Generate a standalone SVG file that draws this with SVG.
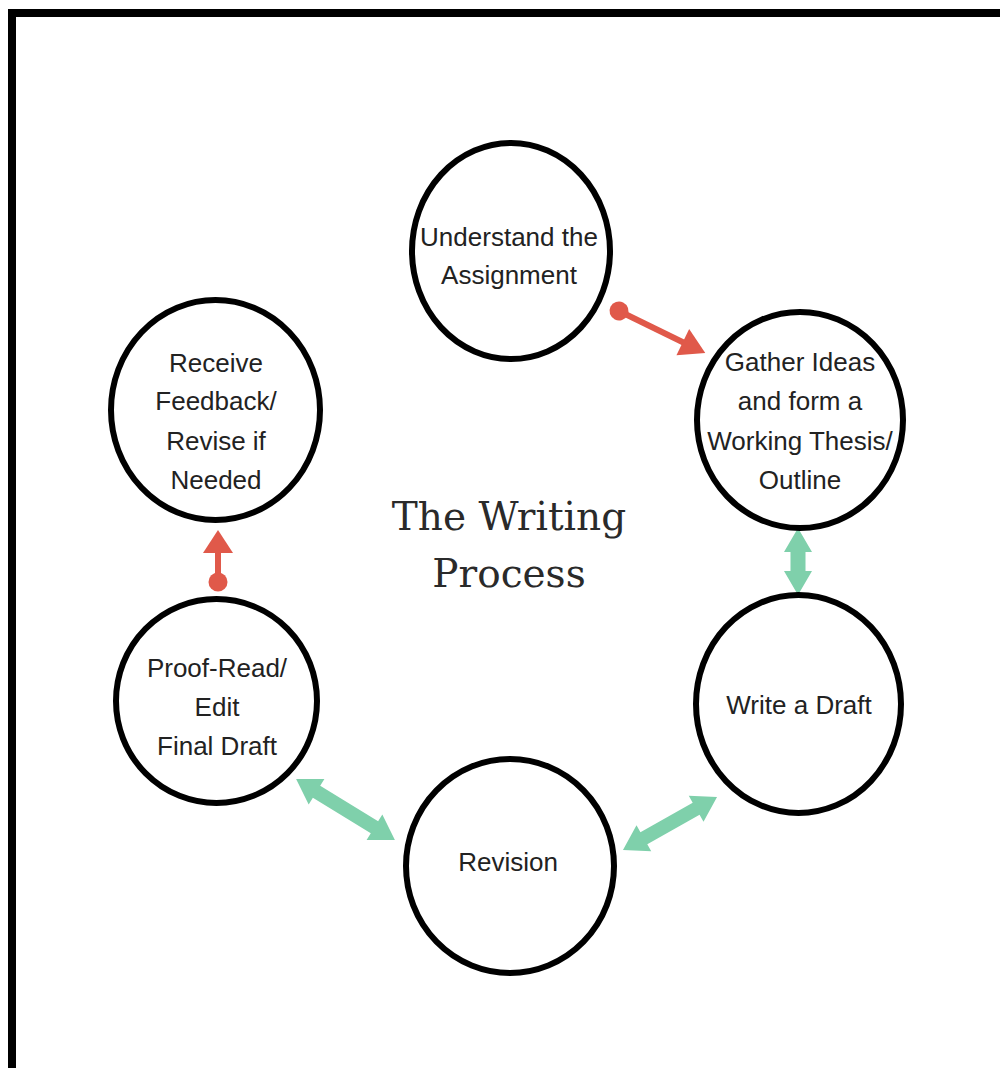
<svg xmlns="http://www.w3.org/2000/svg" width="1000" height="1068" viewBox="0 0 1000 1068">
  <style>
    .node ellipse { fill: #ffffff; stroke: #000000; stroke-width: 6; }
    .node text { font-family: "Liberation Sans", Arial, sans-serif; font-size: 26px; fill: #222222; text-anchor: middle; }
    .title { font-family: "DejaVu Serif", "Liberation Serif", serif; font-size: 39px; fill: #2a2a2a; text-anchor: middle; }
    .green { fill: #7fd0ab; }
    .red { fill: #e0594a; }
    .redline { stroke: #e0594a; stroke-width: 6; }
  </style>
  <rect x="0" y="0" width="1000" height="1068" fill="#ffffff"/>
  <rect x="12" y="13" width="1000" height="1100" fill="none" stroke="#000000" stroke-width="8"/>

  <g id="connectors">
    <g id="c-understand-gather" transform="translate(619,311) rotate(26)">
      <line class="redline" x1="0" y1="0" x2="74" y2="0"/>
      <circle class="red" cx="0" cy="0" r="9.5"/>
      <polygon class="red" points="96,0 71,-14.5 71,14.5"/>
    </g>
    <g id="c-gather-write" transform="translate(798,561.5) rotate(90)">
      <polygon class="green" points="-33.5,0 -9.5,-14 -9.5,-7.5 9.5,-7.5 9.5,-14 33.5,0 9.5,14 9.5,7.5 -9.5,7.5 -9.5,14"/>
    </g>
    <g id="c-write-revision" transform="translate(670,823.5) rotate(-29.4)">
      <polygon class="green" points="-54,0 -30,-15 -30,-7 30,-7 30,-15 54,0 30,15 30,7 -30,7 -30,15"/>
    </g>
    <g id="c-revision-proof" transform="translate(345.5,809.5) rotate(31.6)">
      <polygon class="green" points="-58,0 -34,-15 -34,-7 34,-7 34,-15 58,0 34,15 34,7 -34,7 -34,15"/>
    </g>
    <g id="c-proof-receive" transform="translate(218,582) rotate(-90)">
      <line class="redline" x1="0" y1="0" x2="32" y2="0"/>
      <circle class="red" cx="0" cy="0" r="9.5"/>
      <polygon class="red" points="52,0 29,-15 29,15"/>
    </g>
  </g>

  <g id="node-understand" class="node">
    <ellipse cx="511" cy="251" rx="99" ry="108"/>
    <text x="509" y="246">Understand the</text>
    <text x="509" y="284">Assignment</text>
  </g>
  <g id="node-gather" class="node">
    <ellipse cx="800" cy="420" rx="103" ry="108"/>
    <text x="800" y="371">Gather Ideas</text>
    <text x="800" y="410">and form a</text>
    <text x="800" y="450">Working Thesis/</text>
    <text x="800" y="489">Outline</text>
  </g>
  <g id="node-draft" class="node">
    <ellipse cx="798.5" cy="704" rx="102.5" ry="109"/>
    <text x="799" y="714">Write a Draft</text>
  </g>
  <g id="node-revision" class="node">
    <ellipse cx="510" cy="866" rx="104" ry="107"/>
    <text x="508" y="871">Revision</text>
  </g>
  <g id="node-proofread" class="node">
    <ellipse cx="216.5" cy="701" rx="100.5" ry="102"/>
    <text x="217" y="677">Proof-Read/</text>
    <text x="217" y="716">Edit</text>
    <text x="217" y="755">Final Draft</text>
  </g>
  <g id="node-feedback" class="node">
    <ellipse cx="215.5" cy="410" rx="104.5" ry="110"/>
    <text x="216" y="372">Receive</text>
    <text x="216" y="410">Feedback/</text>
    <text x="216" y="450">Revise if</text>
    <text x="216" y="489">Needed</text>
  </g>

  <g id="title">
    <text class="title" x="509" y="530">The Writing</text>
    <text class="title" x="509" y="587">Process</text>
  </g>
</svg>
